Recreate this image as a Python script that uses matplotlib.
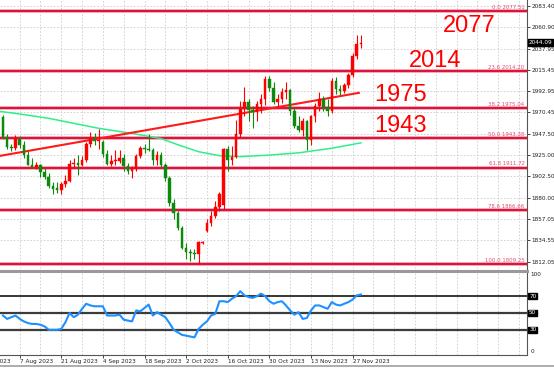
import matplotlib
matplotlib.use("Agg")
import matplotlib.pyplot as plt
from matplotlib.lines import Line2D
from matplotlib import font_manager

# XAUUSD daily candles, Aug - Nov 2023
opens = [1965, 1944, 1934, 1933, 1942, 1936, 1925, 1915, 1912, 1914,
         1907, 1902, 1892, 1890, 1888, 1894, 1898, 1916, 1917, 1914,
         1920, 1937, 1942, 1940, 1939, 1926, 1916, 1919, 1919, 1922,
         1913, 1908, 1910, 1924, 1933, 1931, 1930, 1920, 1925, 1915,
         1901, 1874, 1864, 1848, 1827, 1822, 1821, 1820, 1832, 1845,
         1853, 1861, 1870, 1872, 1932, 1920, 1923, 1947, 1974, 1981,
         1973, 1971, 1979, 1985, 2006, 1996, 1981, 1985, 1992, 1994,
         1972, 1956, 1952, 1961, 1941, 1966, 1977, 1985, 1976, 1972,
         2004, 1995, 1993, 1999, 2010, 2030, 2043]
highs = [1968, 1947, 1937, 1946, 1945, 1940, 1929, 1922, 1918, 1916,
         1911, 1906, 1896, 1896, 1897, 1904, 1920, 1922, 1925, 1924,
         1939, 1949, 1948, 1953, 1941, 1930, 1925, 1930, 1930, 1926,
         1917, 1913, 1926, 1935, 1937, 1947, 1933, 1929, 1928, 1917,
         1903, 1879, 1866, 1850, 1832, 1825, 1826, 1834, 1834, 1857,
         1866, 1876, 1886, 1933, 1935, 1935, 1962, 1982, 1997, 1985,
         1977, 1982, 1990, 2009, 2009, 2002, 1990, 1996, 2003, 1995,
         1975, 1966, 1964, 1962, 1968, 1980, 1992, 1988, 1984, 2007,
         2008, 1999, 2001, 2012, 2033, 2052, 2052]
lows = [1942, 1932, 1929, 1930, 1933, 1922, 1914, 1911, 1910, 1902,
        1900, 1890, 1884, 1885, 1884, 1891, 1896, 1911, 1904, 1913,
        1918, 1934, 1936, 1931, 1923, 1915, 1913, 1914, 1917, 1908,
        1905, 1901, 1908, 1922, 1927, 1929, 1915, 1915, 1912, 1898,
        1871, 1857, 1846, 1825, 1815, 1813, 1815, 1810, 1831, 1843,
        1850, 1858, 1866, 1868, 1908, 1914, 1922, 1943, 1966, 1961,
        1954, 1961, 1970, 1978, 1993, 1979, 1976, 1980, 1984, 1968,
        1954, 1949, 1945, 1930, 1936, 1960, 1972, 1972, 1966, 1970,
        1990, 1989, 1991, 1996, 2008, 2027, 2039]
closes = [1944, 1934, 1933, 1942, 1936, 1925, 1915, 1912, 1914, 1907,
          1902, 1892, 1889, 1888, 1894, 1898, 1916, 1917, 1914, 1920,
          1937, 1942, 1940, 1940.5, 1926, 1916, 1919, 1919.5, 1922, 1913,
          1908, 1910, 1924, 1933, 1931, 1930, 1920, 1925, 1915, 1901,
          1874, 1864, 1848, 1827, 1822, 1821, 1820, 1833, 1832.5, 1853,
          1861, 1870, 1884, 1932, 1920, 1923, 1947, 1974, 1981, 1973,
          1971, 1979, 1985, 2006, 1996, 1981, 1985, 1992, 1994, 1972,
          1956, 1952, 1961, 1941, 1966, 1977, 1985, 1976, 1972, 2004,
          1995, 1993, 1999, 2010, 2030, 2043, 2044.09]

rsi = [47, 43, 45, 47, 43, 40, 38, 37, 37, 36,
       34, 30, 30, 30, 31, 39, 50, 45, 48, 55,
       61, 59, 58, 58, 58, 47, 47, 47, 48, 42,
       41, 40, 53, 52, 56, 60, 47, 51, 48, 45,
       38, 30, 27, 24, 23, 22, 21, 31, 36, 40,
       47, 49, 64, 64, 63, 67, 70, 76, 71, 69,
       68, 70, 73, 70, 64, 61, 63, 64, 59, 53,
       48, 51, 43, 44, 53, 59, 59, 57, 55, 63,
       60, 59, 61, 63, 66, 71, 72]

# moving average (green) read at a few bars
ma_bar = [-1, 4, 11, 23, 31, 38, 42, 47, 52, 57, 64, 71, 79, 86]
ma_val = [1971.5, 1968.6, 1964, 1953.4, 1948, 1942.5, 1936, 1928.6,
          1924.4, 1923.4, 1925, 1927.4, 1932.3, 1938]

# trend line anchors (bar, price)
trend_bar = [-1, 85.5]
trend_val = [1924, 1991]

fib_pct = ['0.0', '23.6', '38.2', '50.0', '61.8', '78.6', '100.0']
fib_val = [2077.51, 2014.20, 1975.04, 1943.38, 1911.72, 1866.66, 1809.25]

big_labels = ['2077', '2014', '1975', '1943']
big_bar = [112.0, 103.8, 95.5, 95.5]
big_base = [2055.5, 2018.7, 1982.7, 1949.8]

price_ticks = [2083.40, 2060.90, 2037.95, 2015.45, 1992.95, 1970.45, 1947.50,
               1925.00, 1902.50, 1880.00, 1857.05, 1834.55, 1812.05]
date_bars = [4, 14, 24, 34, 44, 54, 64, 74, 84]
date_labels = ['7 Aug 2023', '21 Aug 2023', '4 Sep 2023', '18 Sep 2023',
               '2 Oct 2023', '16 Oct 2023', '30 Oct 2023', '13 Nov 2023',
               '27 Nov 2023']


def narrow_font(size):
    # pick a condensed face if one is installed, else a plain one
    wanted = ['LiberationSansNarrow-Regular', 'DejaVuSansCondensed.ttf',
              'RobotoCondensed-Regular', 'OpenSans_Condensed-Regular']
    files = [f.fname for f in font_manager.fontManager.ttflist]
    for w in wanted:
        for fn in files:
            if w in fn:
                return font_manager.FontProperties(fname=fn, size=size)
    return font_manager.FontProperties(family='Roboto', size=size - 0.6)


tick_fp = narrow_font(4.6)
fib_fp = narrow_font(4.3)

UP, DOWN = '#ff0000', '#0c8a0c'
FIB = '#dc143c'

fig = plt.figure(figsize=(5.54, 3.68), dpi=100)
ax = fig.add_axes([0, 1 - 269 / 368, 527 / 554, 269 / 368])
ax2 = fig.add_axes([0, 13 / 368, 527 / 554, 84 / 368], sharex=ax)

xmin, xmax = -0.72, 125.9
ax.set_xlim(xmin, xmax)
ax.set_ylim(1804.3, 2089.4)
ax2.set_ylim(0, 100)

# grid
for a in (ax, ax2):
    for b in range(-1, 126, 5):
        a.axvline(b, color='#cccccc', lw=0.6, ls=(0, (2, 2)), zorder=0)
for p in price_ticks:
    ax.axhline(p, color='#cccccc', lw=0.6, ls=(0, (2, 2)), zorder=0)

# fibonacci levels
for pct, v in zip(fib_pct, fib_val):
    ax.axhline(v, color='#f2a0b0', lw=2.6, zorder=1)
    ax.axhline(v, color=FIB, lw=1.5, zorder=2)
    ax.text(125.3, v + 1.3, '%s %.2f' % (pct, v), color='#e0506e',
            fontproperties=fib_fp, ha='right', va='bottom', zorder=3)

# moving average + trend line
ax.plot(ma_bar, ma_val, color='#2ef08a', lw=1.1, zorder=3)
ax.plot(trend_bar, trend_val, color='#ff1a1a', lw=1.5, zorder=3)

# candles
bars = range(len(opens))
for i in bars:
    o, h, l, c = opens[i], highs[i], lows[i], closes[i]
    col = UP if c >= o else DOWN
    ax.vlines(i, l, h, color=col, lw=0.8, zorder=4)
    lo = min(o, c)
    ht = max(abs(c - o), 0.6)
    ax.bar(i, ht, bottom=lo, width=0.62, color=col, edgecolor=col,
           lw=0.3, zorder=5)

# big level labels
for lab, bx, by in zip(big_labels, big_bar, big_base):
    ax.text(bx, by, lab, color='#ff0000', fontsize=17,
            family='Liberation Sans', ha='center', va='baseline', zorder=6)

# price axis
ax.yaxis.tick_right()
ax.set_yticks(price_ticks)
ax.set_yticklabels(['%.2f' % p for p in price_ticks])
for t in ax.get_yticklabels():
    t.set_fontproperties(tick_fp)
ax.tick_params(axis='y', length=2, width=0.6, pad=1.5, colors='#222222')
ax.tick_params(axis='x', bottom=False, labelbottom=False)
for s in ('top', 'left', 'bottom'):
    ax.spines[s].set_visible(False)
ax.spines['right'].set_color('#555555')
ax.spines['right'].set_linewidth(0.8)

ax.text(1.003, closes[-1], '%.2f' % closes[-1], transform=ax.get_yaxis_transform(),
        color='white', fontproperties=tick_fp, ha='left', va='center',
        bbox=dict(boxstyle='square,pad=0.15', fc='black', ec='black'))

# RSI panel
ax2.plot(list(bars), rsi, color='#1e90ff', lw=1.5, zorder=4)
ax2.axhline(70, color='black', lw=1.1, zorder=2)
ax2.axhline(50, color='#3c3c3c', lw=1.6, zorder=2)
ax2.axhline(30, color='#3c3c3c', lw=1.6, zorder=2)
ax2.set_yticks([])
ax2.spines['left'].set_visible(False)
ax2.spines['top'].set_color('#9a9a9a')
ax2.spines['top'].set_linewidth(2.2)
ax2.spines['right'].set_color('#555555')
ax2.spines['right'].set_linewidth(0.8)
ax2.spines['bottom'].set_color('#555555')
ax2.spines['bottom'].set_linewidth(0.8)
ytr = ax2.get_yaxis_transform()
ax2.text(1.006, 96, '100', transform=ytr, fontproperties=tick_fp,
         ha='left', va='center', color='#222222')
ax2.text(1.006, 4.5, '0', transform=ytr, fontproperties=tick_fp,
         ha='left', va='center', color='#222222')
for lv in (70, 50, 30):
    ax2.text(1.004, lv, str(lv), transform=ytr, fontproperties=tick_fp,
             ha='left', va='center', color='white',
             bbox=dict(boxstyle='square,pad=0.1', fc='black', ec='black'))

ax2.set_xticks(date_bars)
ax2.set_xticklabels(date_labels, ha='left')
for t in ax2.get_xticklabels():
    t.set_fontproperties(tick_fp)
ax2.tick_params(axis='x', length=2, width=0.6, pad=1.2, colors='#222222')
# first date label sits off the left edge, only its tail shows
ax2.annotate('24 Jul 2023', xy=(-6, 0), xycoords=('data', 'axes fraction'),
             xytext=(0, -3.2), textcoords='offset points',
             fontproperties=tick_fp, ha='left', va='top', color='#222222',
             annotation_clip=False)
ax2.set_xlim(xmin, xmax)

fig.add_artist(Line2D([0, 1], [2 / 368, 2 / 368], color='#a0a0a0', lw=1.2,
                      transform=fig.transFigure))

fig.savefig('out.png', dpi=100, facecolor='white')
